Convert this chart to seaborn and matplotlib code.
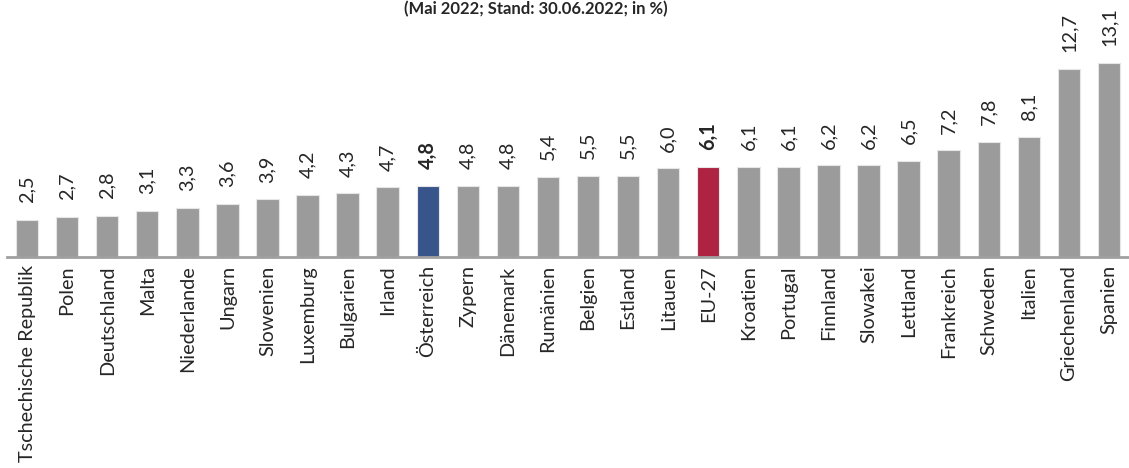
import matplotlib
matplotlib.use("Agg")
import pandas as pd
import matplotlib.pyplot as plt
import seaborn as sns

# Data
countries = ["Tschechische Republik", "Polen", "Deutschland", "Malta", "Niederlande",
             "Ungarn", "Slowenien", "Luxemburg", "Bulgarien", "Irland", "Österreich",
             "Zypern", "Dänemark", "Rumänien", "Belgien", "Estland", "Litauen", "EU-27",
             "Kroatien", "Portugal", "Finnland", "Slowakei", "Lettland", "Frankreich",
             "Schweden", "Italien", "Griechenland", "Spanien"]
values = [2.5, 2.7, 2.8, 3.1, 3.3, 3.6, 3.9, 4.2, 4.3, 4.7, 4.8, 4.8, 4.8, 5.4, 5.5,
          5.5, 6.0, 6.1, 6.1, 6.1, 6.2, 6.2, 6.5, 7.2, 7.8, 8.1, 12.7, 13.1]
highlight = {"Österreich": "#2A5199", "EU-27": "#C40C34"}
title = "(Mai 2022; Stand: 30.06.2022; in %)"

df = pd.DataFrame({"Land": countries, "Wert": values})
palette = [highlight.get(c, "#9B9B9B") for c in countries]

sns.set_style("white")
plt.rcParams["font.family"] = ["Lato", "DejaVu Sans"]

fig = plt.figure(figsize=(11.29, 4.68), dpi=100)
ax = fig.add_axes([7 / 1129, 211 / 468, 1122 / 1129, 257 / 468])

sns.barplot(data=df, x="Land", y="Wert", hue="Land", palette=palette, legend=False,
            width=0.56, edgecolor="#E6E6E6", linewidth=0.8, ax=ax)

ax.set_xlim(-0.5, len(countries) - 0.5)
ax.set_ylim(0, 17.36)
ax.set_xlabel("")
ax.set_ylabel("")
ax.set_yticks([])
ax.tick_params(axis="x", length=0, pad=6)
ax.set_xticks(range(len(countries)))
ax.set_xticklabels(countries, rotation=90, fontsize=14.3)

for s in ["top", "right", "left"]:
    ax.spines[s].set_visible(False)
ax.spines["bottom"].set_color("#A0A0A0")
ax.spines["bottom"].set_linewidth(2)

# Value labels
for i, (c, v) in enumerate(zip(countries, values)):
    bold = c in highlight
    ax.annotate(f"{v:.1f}".replace(".", ","), (i, v), xytext=(0, 12),
                textcoords="offset points", rotation=90, ha="center", va="bottom",
                fontsize=14.3, fontweight="bold" if bold else "normal")

fig.text(536 / 1129, 1 - 1 / 468, title, ha="center", va="top",
         fontsize=12, fontweight="bold")

fig.savefig("out.png", dpi=100)
